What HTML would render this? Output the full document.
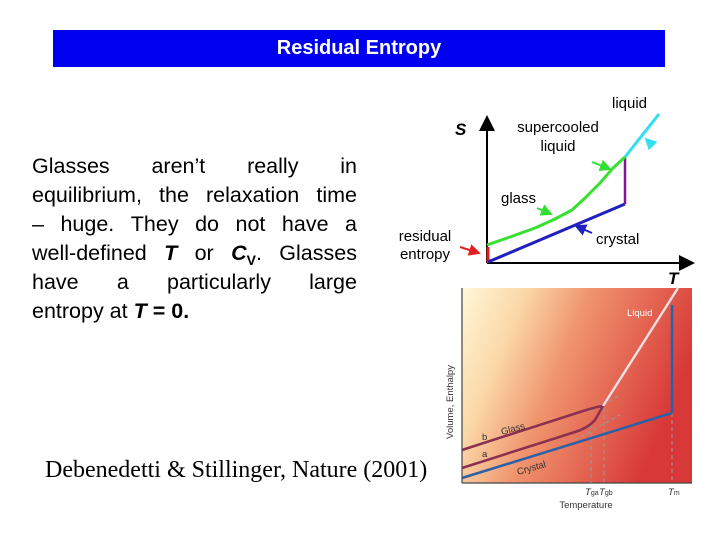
<!DOCTYPE html>
<html><head><meta charset="utf-8"><style>
body{margin:0;width:720px;height:540px;background:#fff;position:relative;overflow:hidden;font-family:"Liberation Sans",sans-serif}
#title{position:absolute;left:53px;top:30px;width:612px;height:37px;background:#0000f0;color:#fff;font-weight:bold;font-size:20px;text-align:center;line-height:37px}
#para{position:absolute;left:32px;top:152px;width:325px;font-size:21.5px;line-height:29px;color:#000}
#para div{white-space:nowrap;display:flex;justify-content:space-between;height:29px}
#para div.last{display:block;text-align:left}
#para sub{font-size:14px;position:relative;top:5px;vertical-align:baseline;line-height:0}
#cite{position:absolute;left:45px;top:457px;font-family:"Liberation Serif",serif;font-size:24px}
svg{position:absolute;left:0;top:0}
</style></head><body>
<div id="title">Residual Entropy</div>
<div id="para">
<div><span>Glasses</span><span>aren’t</span><span>really</span><span>in</span></div>
<div><span>equilibrium,</span><span>the</span><span>relaxation</span><span>time</span></div>
<div><span>–</span><span>huge.</span><span>They</span><span>do</span><span>not</span><span>have</span><span>a</span></div>
<div><span>well-defined</span><span><b><i>T</i></b></span><span>or</span><span><b><i>C</i><sub>V</sub></b>.</span><span>Glasses</span></div>
<div><span>have</span><span>a</span><span>particularly</span><span>large</span></div>
<div class="last">entropy at <b><i>T</i> = 0.</b></div>
</div>
<div id="cite">Debenedetti &amp; Stillinger, Nature (2001)</div>
<svg width="720" height="540">
<defs>
<marker id="ah" markerWidth="8" markerHeight="8" refX="7" refY="4" orient="auto"><path d="M0,0 L8,4 L0,8 z" fill="#000"/></marker>
<marker id="ar" markerWidth="6" markerHeight="6" refX="5" refY="3" orient="auto"><path d="M0,0 L6,3 L0,6 z" fill="#e02020"/></marker>
<marker id="ag" markerWidth="6" markerHeight="6" refX="5" refY="3" orient="auto"><path d="M0,0 L6,3 L0,6 z" fill="#30e030"/></marker>
<marker id="ab" markerWidth="6" markerHeight="6" refX="5" refY="3" orient="auto"><path d="M0,0 L6,3 L0,6 z" fill="#2020c0"/></marker>
<marker id="ac" markerWidth="6" markerHeight="6" refX="5" refY="3" orient="auto"><path d="M0,0 L6,3 L0,6 z" fill="#30e0f0"/></marker>
<linearGradient id="bg" x1="0" y1="0" x2="1" y2="0.35">
<stop offset="0" stop-color="#fff8d8"/><stop offset="0.25" stop-color="#fbd8a8"/><stop offset="0.5" stop-color="#f0956e"/><stop offset="1" stop-color="#d83838"/></linearGradient>
</defs>
<g>
<line x1="487" y1="263" x2="487" y2="117" stroke="#000" stroke-width="2" marker-end="url(#ah)"/>
<line x1="487" y1="263" x2="693" y2="263" stroke="#000" stroke-width="2" marker-end="url(#ah)"/>
<line x1="488" y1="247" x2="488" y2="263" stroke="#e02020" stroke-width="3"/>
<line x1="488" y1="262" x2="625" y2="204" stroke="#2020c0" stroke-width="3"/>
<line x1="625" y1="204" x2="625" y2="157" stroke="#801890" stroke-width="2.5"/>
<path d="M487,245 L510,237 L535,228 L555,219 L572,210 L585,198 L600,183 L613,168 L625,157" fill="none" stroke="#38e030" stroke-width="3"/>
<line x1="625" y1="157" x2="659" y2="114" stroke="#30e0f0" stroke-width="3"/>
<line x1="460" y1="247" x2="479" y2="253" stroke="#e02020" stroke-width="2" marker-end="url(#ar)"/>
<line x1="592" y1="162" x2="610" y2="169" stroke="#30e030" stroke-width="2" marker-end="url(#ag)"/>
<line x1="537" y1="208" x2="551" y2="214" stroke="#30e030" stroke-width="2" marker-end="url(#ag)"/>
<line x1="592" y1="233" x2="576" y2="226" stroke="#2020c0" stroke-width="2" marker-end="url(#ab)"/>
<line x1="651" y1="144" x2="646" y2="139" stroke="#30e0f0" stroke-width="2" marker-end="url(#ac)"/>
<g font-size="15" fill="#000">
<text x="455" y="135" font-size="17" font-style="italic" font-weight="bold">S</text>
<text x="668" y="284" font-size="17" font-style="italic" font-weight="bold">T</text>
<text x="612" y="108">liquid</text>
<text x="558" y="132" text-anchor="middle">supercooled</text>
<text x="558" y="151" text-anchor="middle">liquid</text>
<text x="501" y="203">glass</text>
<text x="596" y="244">crystal</text>
<text x="425" y="241" text-anchor="middle">residual</text>
<text x="425" y="259" text-anchor="middle">entropy</text>
</g></g>
<g>
<rect x="462" y="288" width="230" height="195" fill="url(#bg)"/>
<line x1="462" y1="288" x2="462" y2="483" stroke="#444" stroke-width="1.2"/>
<line x1="462" y1="483" x2="692" y2="483" stroke="#444" stroke-width="1.2"/>
<g stroke="#999" stroke-dasharray="4,3" stroke-width="1" fill="none">
<line x1="591" y1="425" x2="591" y2="483"/><line x1="604" y1="408" x2="604" y2="483"/><line x1="672" y1="413" x2="672" y2="483"/>
<line x1="575" y1="440" x2="620" y2="415"/><line x1="590" y1="412" x2="620" y2="395"/>
</g>
<line x1="462" y1="478" x2="672" y2="413" stroke="#2a60a8" stroke-width="2.5"/>
<line x1="672" y1="413" x2="672" y2="305" stroke="#2a60a8" stroke-width="2.5"/>
<path d="M462,450 L580,412 Q595,407 603,406 L678,288" fill="none" stroke="#8a3050" stroke-width="2.5"/>
<path d="M603,406 L678,288" fill="none" stroke="#f4e0e0" stroke-width="2.5"/>
<path d="M462,468 L575,432 Q588,428 595,420 L603,406" fill="none" stroke="#8a3050" stroke-width="2.5"/>
<g font-size="9.5" fill="#333">
<text x="627" y="316" fill="#fff">Liquid</text>
<text x="502" y="435" transform="rotate(-15 502 435)">Glass</text>
<text x="482" y="440">b</text><text x="482" y="457">a</text>
<text x="518" y="475" transform="rotate(-16 518 475)">Crystal</text>
<text x="453" y="402" transform="rotate(-90 453 402)" text-anchor="middle">Volume, Enthalpy</text>
<text x="585" y="495" font-style="italic">T<tspan font-size="7" font-style="normal">ga</tspan></text>
<text x="599" y="495" font-style="italic">T<tspan font-size="7" font-style="normal">gb</tspan></text>
<text x="668" y="495" font-style="italic">T<tspan font-size="7" font-style="normal">m</tspan></text>
<text x="586" y="508" text-anchor="middle">Temperature</text>
</g></g>
</svg>
</body></html>
